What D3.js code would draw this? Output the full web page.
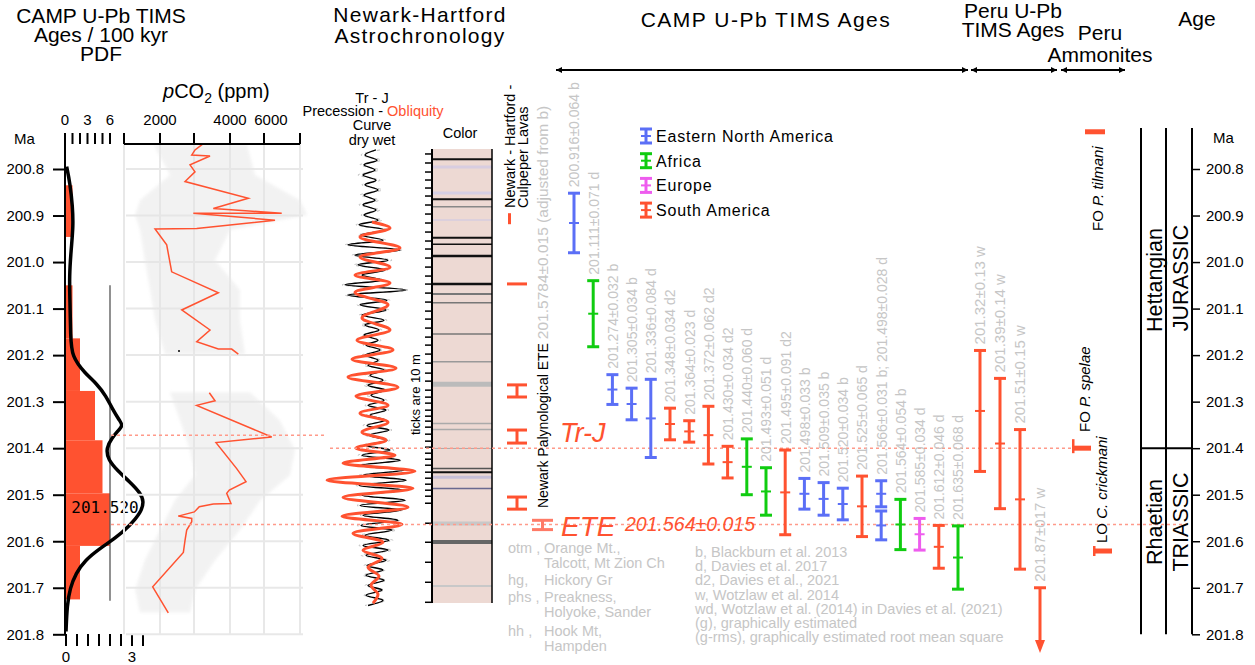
<!DOCTYPE html>
<html><head><meta charset="utf-8">
<script src="https://cdn.jsdelivr.net/npm/d3@7"></script>
<style>body{margin:0;background:#fff}svg text{font-family:"Liberation Sans",Arial,Helvetica,sans-serif}</style>
</head><body><svg id="c" width="1255" height="665"></svg>
<script>
// ---------- data ----------
const ageTicks = [200.8,200.9,201.0,201.1,201.2,201.3,201.4,201.5,201.6,201.7,201.8];

// U-Pb age histogram (counts per bin) and density curve
const pdfBinEdges = [200.835,200.946,201.05,201.164,201.277,201.383,201.497,201.61,201.725];
const pdfCounts   = [1,0,1,2,4,5,6,2];
const densityAges = [200.795,200.83,200.881,200.924,200.974,201.032,201.082,201.16,201.203,201.239,201.262,201.288,201.314,201.342,201.351,201.363,201.378,201.4,201.425,201.449,201.473,201.495,201.514,201.538,201.566,201.594,201.615,201.641,201.669,201.701,201.738,201.794];
const densityVals = [0.03,0.18,0.3,0.33,0.23,0.15,0.18,0.21,0.26,0.86,1.41,1.82,2.09,2.45,2.59,2.36,2.09,1.82,1.91,2.36,2.91,3.36,3.55,3.41,2.91,2.23,1.55,0.86,0.45,0.18,0.05,0];
const pdfMeanLine = {value:2, from:201.05, to:201.728};
const pdfPeakLabel = "201.520";

// pCO2 record (two segments) and its uncertainty envelope
const pco2AgesA = [200.746,200.759,200.77,200.772,200.791,200.806,200.827,200.863,200.885,200.895,200.895,200.91,200.928,200.929,200.963,201.021,201.066,201.103,201.146,201.171,201.187,201.187,201.198];
const pco2ValsA = [3061,2828,2738,3281,2692,2828,2562,4794,3390,6675,2782,6246,2876,1904,2137,2245,3563,2480,3281,2876,3563,4067,4343];
const pco2AgesB = [201.281,201.298,201.308,201.376,201.388,201.444,201.472,201.49,201.497,201.519,201.52,201.526,201.537,201.546,201.551,201.558,201.576,201.598,201.624,201.698,201.754];
const pco2ValsB = [3259,3449,2876,6045,3482,4274,4688,3972,3871,4039,3390,2951,2809,2396,2738,2738,2605,2562,2520,1860,2171];
const pco2Stray = [201.191,2414];
const envAgesA = [200.748,200.813,200.867,200.899,200.931,200.996,201.06,201.125,201.198];
const envLoA   = [1879,2208,1641,1562,1641,1720,1812,1904,2101];
const envHiA   = [4740,5124,8000,8600,4000,3449,4416,4416,4640];
const envAgesB = [201.28,201.34,201.404,201.458,201.512,201.576,201.641,201.705,201.753];
const envLoB   = [2208,2438,2692,2828,2320,2000,1720,1562,1641];
const envHiB   = [4876,6540,7614,7246,5400,4416,3449,2828,2692];
const pco2GridVals = [1400,2000,2800,4000,5600,8000];
const pco2LabelVals = [2000,4000,6000];

// Astrochronology: precession (black), its dashed companion (gray) and obliquity (red) extremes; dry < 0 < wet
const precAges = [200.759,200.770,200.781,200.791,200.802,200.813,200.824,200.834,200.845,200.856,200.867,200.877,200.888,200.899,200.910,200.920,200.931,200.942,200.953,200.963,200.974,200.985,200.996,201.006,201.017,201.028,201.039,201.049,201.060,201.071,201.082,201.092,201.103,201.114,201.125,201.135,201.146,201.157,201.168,201.178,201.189,201.200,201.211,201.222,201.232,201.243,201.254,201.265,201.275,201.286,201.297,201.308,201.318,201.329,201.340,201.351,201.361,201.372,201.383,201.394,201.404,201.415,201.426,201.437,201.447,201.458,201.469,201.480,201.490,201.501,201.512,201.523,201.533,201.544,201.555,201.566,201.576,201.587,201.598,201.609,201.619,201.630,201.641,201.652,201.662,201.673,201.684,201.695,201.705,201.716,201.727,201.738];
const precVals = [6,-5,7,-6,5,-7,6,-5,8,-6,5,-7,6,-6,8,-11,15,-9,13,-22,30,-15,18,-12,15,-8,12,-25,36,-22,17,-10,16,-8,14,-5,9,-6,8,-4,10,-5,8,-2,14,0,13,-2,15,1,14,-2,16,0,15,-3,19,-1,17,-4,20,-8,30,-10,34,-7,36,-11,33,-8,35,-10,31,-7,28,-9,22,-5,19,-7,18,-4,16,-3,13,-4,14,-2,12,-4,13,-2];
const dashVals = [10,-9,11,-10,9,-12,10,-8,12,-10,9,-11,10,-9,12,-14,18,-12,16,-25,32,-18,22,-16,18,-12,15,-28,38,-25,20,-13,19,-11,17,-9,12,-8,11,-7,13,-8,11,-6,17,-5,16,-6,18,-4,17,-5,19,-4,18,-7,22,-5,20,-8,24,-12,32,-14,35,-11,37,-14,34,-12,36,-13,33,-10,30,-13,26,-10,23,-11,22,-9,20,-6,15,-7,16,-5,14,-6,15,-5];
const obliqAges = [200.914,200.927,200.946,200.970,200.989,201.011,201.028,201.045,201.065,201.092,201.120,201.146,201.168,201.189,201.209,201.228,201.247,201.269,201.288,201.3075,201.3247,201.3441,201.3656,201.3828,201.4,201.4151,201.4323,201.4495,201.4688,201.486,201.5054,201.5269,201.5462,201.5634,201.5828,201.6022,201.6194,201.6366,201.6559,201.6753,201.6946,201.714,201.7333];
const obliqVals = [2,20,-10,30,-10,20,-15,20,-15,18,-8,20,-13,23,-18,26,-22,28,-14,18,-10,18,-8,16,-14,25,-27,45,-43,43,-27,38,-28,32,-17,13,-7,12,-2,9,1,8,3];

// Color column stripes and 10 m ticks
const colorStripeAges = [200.7791,200.7957,200.8516,200.8652,200.8811,200.9097,200.9477,200.9619,200.9871,201.0473,201.0688,201.0875,201.1548,201.2144,201.2624,201.3469,201.3598,201.4006,201.4437,201.4516,201.4624,201.4867,201.5619,201.6015,201.6961];
const colorStripeTones = ["#111","#d8cde0","#d5cfe4","#111","#888","#dcd0dc","#111","#111","#111","#111","#777","#777","#777","#999","#bbb","#aaa","#aaa","#aaa","#555","#111","#c8c0d8","#6a6a90","#c8c8c8","#666","#c8c8c8"];
const colorStripeW = [2,3,3,2,1.5,2,2,1.5,2.5,2.5,2,1.5,1.5,1.5,5,1.5,1.5,1,1.5,2,3,1.5,4,4,2];
const colorTickAges = [200.7677,200.7871,200.8065,200.8237,200.8409,200.8581,200.8774,200.8968,200.9161,200.9355,200.9548,200.9720,200.9914,201.0108,201.0301,201.0473,201.0667,201.086,201.1054,201.1226,201.1419,201.1613,201.1785,201.1978,201.2172,201.2387,201.2559,201.2753,201.2903,201.3032,201.3183,201.3312,201.3419,201.3548,201.3699,201.3849,201.3978,201.4108,201.4237,201.4366,201.4516,201.4645,201.4774,201.4903,201.5032,201.5183,201.5613,201.6022,201.6452,201.6882,201.7312];

// CAMP U-Pb TIMS ages
const campLabels = ["200.916±0.064 b","201.111±0.071 d","201.274±0.032 b","201.305±0.034 b","201.336±0.084 d","201.348±0.034 d2","201.364±0.023 d","201.372±0.062 d2","201.430±0.034 d2","201.440±0.060 d","201.493±0.051 d","201.495±0.091 d2","201.498±0.033 b","201.509±0.035 b","201.520±0.034 b","201.525±0.065 d","201.566±0.031 b; 201.498±0.028 d","201.564±0.054 b","201.585±0.034 d","201.612±0.046 d","201.635±0.068 d"];
const campSlot   = [0,1,2,3,4,5,6,7,8,9,10,11,12,13,14,15,16,16,17,18,19,20];
const campAge    = [200.916,201.111,201.274,201.305,201.336,201.348,201.364,201.372,201.430,201.440,201.493,201.495,201.498,201.509,201.520,201.525,201.498,201.566,201.564,201.585,201.612,201.635];
const campErr    = [0.064,0.071,0.032,0.034,0.084,0.034,0.023,0.062,0.034,0.060,0.051,0.091,0.033,0.035,0.034,0.065,0.028,0.031,0.054,0.034,0.046,0.068];
const campRegion = ["ENA","AF","ENA","ENA","ENA","SA","SA","SA","SA","AF","AF","SA","ENA","ENA","ENA","SA","ENA","ENA","AF","EU","SA","AF"];
const regionNames = ["Eastern North America","Africa","Europe","South America"];
const regionKeys  = ["ENA","AF","EU","SA"];

// Peru U-Pb TIMS ages
const peruLabels = ["201.32±0.13 w","201.39±0.14 w","201.51±0.15 w","201.87±017 w"];
const peruAge = [201.32,201.39,201.51,201.87];
const peruErr = [0.13,0.14,0.15,0.17];

// Newark lava / palynology markers (centre age, half-range)
const lavaMarkAges = [201.277,201.375,201.518,201.565];
const lavaMarkHalf = [0.013,0.014,0.013,0.01];

// Notes
const noteAbbr = ["otm ,","","hg,","phs ,","","hh ,",""];
const noteUnits = ["Orange Mt.,","Talcott, Mt Zion Ch","Hickory Gr","Preakness,","Holyoke, Sander","Hook Mt,","Hampden"];
const refNotes = ["b, Blackburn et al. 2013","d, Davies et al. 2017","d2, Davies et al., 2021","w, Wotzlaw et al. 2014","wd, Wotzlaw et al. (2014) in Davies et al. (2021)","(g), graphically estimated","(g-rms), graphically estimated root mean square"];

// ---------- drawing ----------
const svg = d3.select("#c");
const RED="#ff5230", BLUE="#5b6ff6", GREEN="#10cc10", MAG="#ee5cee", LT="#c6c6c6";
const regionColor = d3.scaleOrdinal().domain(regionKeys).range([BLUE,GREEN,MAG,RED]);
const y = d3.scaleLinear().domain([200.8,201.8]).range([169,634.3]);

function txt(x,yy,s,o={}){
  const t=svg.append("text").attr("x",x).attr("y",yy).text(s)
    .attr("font-size",o.size||15).attr("fill",o.fill||"#000")
    .attr("text-anchor",o.anchor||"start");
  if(o.ls) t.attr("letter-spacing",o.ls);
  if(o.italic) t.attr("font-style","italic");
  if(o.rot) t.attr("transform",`rotate(-90,${x},${yy})`);
  return t;
}

// headers
[["CAMP U-Pb TIMS",23],["Ages / 100 kyr",42],["PDF",61]].forEach(d=>txt(101,d[1],d[0],{size:21,anchor:"middle"}));
txt(420,22,"Newark-Hartford",{size:21,anchor:"middle",ls:1.3});
txt(420,43,"Astrochronology",{size:21,anchor:"middle",ls:1.3});
txt(766,27,"CAMP U-Pb TIMS Ages",{size:21,anchor:"middle",ls:1.5});
txt(1013,18,"Peru U-Pb",{size:21,anchor:"middle"});
txt(1013,37,"TIMS Ages",{size:21,anchor:"middle"});
txt(1100,40,"Peru",{size:21,anchor:"middle"});
txt(1100,62,"Ammonites",{size:21,anchor:"middle"});
txt(1197,26,"Age",{size:21,anchor:"middle"});

// header arrows
const defs=svg.append("defs");
["s","e"].forEach(k=>{
  defs.append("marker").attr("id","ar"+k).attr("viewBox","0 0 10 10").attr("refX",k==="e"?10:0).attr("refY",5)
   .attr("markerWidth",9).attr("markerHeight",6).attr("markerUnits","userSpaceOnUse").attr("orient","auto")
   .append("path").attr("d",k==="e"?"M0,0L10,5L0,10z":"M10,0L0,5L10,10z");
});
[[556,968],[971,1057],[1061,1125]].forEach(a=>{
  svg.append("line").attr("x1",a[0]).attr("x2",a[1]).attr("y1",70).attr("y2",70)
   .attr("stroke","#000").attr("stroke-width",2).attr("marker-start","url(#ars)").attr("marker-end","url(#are)");
});

// ---- PDF panel ----
const xCount = d3.scaleLinear().domain([0,6]).range([65,110]);
const xDens  = d3.scaleLinear().domain([0,3]).range([66,132]);
pdfCounts.forEach((c,i)=>{
  if(!c) return;
  svg.append("rect").attr("x",xCount(0)).attr("y",y(pdfBinEdges[i]))
   .attr("width",xCount(c)-xCount(0)).attr("height",y(pdfBinEdges[i+1])-y(pdfBinEdges[i])).attr("fill",RED);
});
svg.append("line").attr("x1",xDens(pdfMeanLine.value)).attr("x2",xDens(pdfMeanLine.value))
  .attr("y1",y(pdfMeanLine.from)).attr("y2",y(pdfMeanLine.to)).attr("stroke","#555").attr("stroke-width",1.3);
svg.append("path").datum(densityAges.map((a,i)=>[xDens(densityVals[i]),y(a)]))
  .attr("d",d3.line().curve(d3.curveBasis)).attr("fill","none").attr("stroke","#000").attr("stroke-width",3.5);
svg.append("text").attr("x",105).attr("y",513).attr("text-anchor","middle").attr("font-size",16)
  .style("font-family","'DejaVu Sans Mono',monospace").text(pdfPeakLabel);

// left age axis
const gL=svg.append("g").attr("transform","translate(65,0)")
  .call(d3.axisLeft(y).tickValues(ageTicks).tickSize(12).tickPadding(9).tickFormat(d3.format(".1f")));
gL.select(".domain").remove();
gL.selectAll("text").attr("font-size",15).attr("font-family",null);
gL.selectAll("line").attr("stroke-width",2);
svg.append("line").attr("x1",65).attr("x2",65).attr("y1",133).attr("y2",y(201.8)).attr("stroke","#000").attr("stroke-width",2);
txt(14,144,"Ma",{size:15});
d3.range(0,7).forEach(v=>svg.append("line").attr("x1",xCount(v)).attr("x2",xCount(v)).attr("y1",133).attr("y2",144).attr("stroke","#000").attr("stroke-width",2));
[0,3,6].forEach(v=>txt(xCount(v),125,v,{size:15,anchor:"middle"}));
d3.range(0,3.51,0.5).forEach(v=>svg.append("line").attr("x1",xDens(v)).attr("x2",xDens(v)).attr("y1",634).attr("y2",646).attr("stroke","#000").attr("stroke-width",2));
[0,3].forEach(v=>txt(xDens(v),662,v,{size:15,anchor:"middle"}));

// ---- pCO2 panel ----
const xC = d3.scaleLog().domain([1400,8000]).range([124,300]);
const gP=svg.append("g");
pco2GridVals.forEach(v=>gP.append("line").attr("x1",xC(v)).attr("x2",xC(v)).attr("y1",144).attr("y2",y(201.8)).attr("stroke","#e8e8e8").attr("stroke-width",2));
ageTicks.forEach(a=>gP.append("line").attr("x1",126).attr("x2",303).attr("y1",y(a)).attr("y2",y(a)).attr("stroke","#e8e8e8").attr("stroke-width",2));
const envArea=d3.area().x0(d=>xC(d[1])).x1(d=>xC(d[2])).y(d=>y(d[0]));
[[envAgesA,envLoA,envHiA],[envAgesB,envLoB,envHiB]].forEach(e=>
  gP.append("path").datum(e[0].map((a,i)=>[a,e[1][i],e[2][i]])).attr("d",envArea).attr("fill","#e6e6e6").attr("opacity",0.5).style("filter","blur(1.5px)"));
const pLine=d3.line().x(d=>xC(d[1])).y(d=>y(d[0]));
gP.append("path").datum(pco2AgesA.map((a,i)=>[a,pco2ValsA[i]])).attr("d",pLine).attr("fill","none").attr("stroke",RED).attr("stroke-width",1.5);
gP.append("path").datum(pco2AgesB.map((a,i)=>[a,pco2ValsB[i]])).attr("d",pLine).attr("fill","none").attr("stroke",RED).attr("stroke-width",1.5);
gP.append("circle").attr("cx",xC(pco2Stray[1])).attr("cy",y(pco2Stray[0])).attr("r",1).attr("fill","#000");
gP.append("line").attr("x1",124).attr("x2",300).attr("y1",144).attr("y2",144).attr("stroke","#000").attr("stroke-width",2);
pco2GridVals.forEach(v=>gP.append("line").attr("x1",xC(v)).attr("x2",xC(v)).attr("y1",133).attr("y2",144).attr("stroke","#000").attr("stroke-width",2));
pco2LabelVals.forEach(v=>txt(xC(v),125,v,{size:15,anchor:"middle"}));
const pl=svg.append("text").attr("x",163).attr("y",98).attr("font-size",20);
pl.append("tspan").attr("font-style","italic").text("p");
pl.append("tspan").text("CO");
pl.append("tspan").attr("font-size",14).attr("dy",5).text("2");
pl.append("tspan").attr("dy",-5).text(" (ppm)");

// ---- Astrochronology ----
const xA = d3.scaleLinear().domain([-50,50]).range([320,420]);
const astroLine=d3.line().x(d=>xA(d[1])).y(d=>y(d[0])).curve(d3.curveMonotoneY);
svg.append("path").datum(precAges.map((a,i)=>[a,dashVals[i]])).attr("d",astroLine).attr("fill","none").attr("stroke","#bdbdbd").attr("stroke-width",1).attr("stroke-dasharray","3,3");
svg.append("path").datum(precAges.map((a,i)=>[a,precVals[i]])).attr("d",astroLine).attr("fill","none").attr("stroke","#000").attr("stroke-width",1.4);
svg.append("path").datum(obliqAges.map((a,i)=>[a,obliqVals[i]])).attr("d",astroLine).attr("fill","none").attr("stroke",RED).attr("stroke-width",3);
txt(372,103,"Tr - J",{size:14.5,anchor:"middle"});
const pt=svg.append("text").attr("x",373).attr("y",116).attr("text-anchor","middle").attr("font-size",14.5);
pt.append("tspan").text("Precession - ");
pt.append("tspan").attr("fill",RED).text("Obliquity");
txt(372,130,"Curve",{size:14.5,anchor:"middle"});
txt(372,145,"dry wet",{size:14.5,anchor:"middle"});
txt(460,138,"Color",{size:14.5,anchor:"middle"});

// color column
svg.append("rect").attr("x",432).attr("y",149).attr("width",60).attr("height",454).attr("fill","#edd9d3");
colorStripeAges.forEach((a,i)=>svg.append("line").attr("x1",432).attr("x2",492).attr("y1",y(a)).attr("y2",y(a))
  .attr("stroke",colorStripeTones[i]).attr("stroke-width",colorStripeW[i]));
svg.append("line").attr("x1",432).attr("x2",432).attr("y1",149).attr("y2",603).attr("stroke","#000").attr("stroke-width",2);
svg.append("line").attr("x1",492).attr("x2",492).attr("y1",149).attr("y2",603).attr("stroke","#000").attr("stroke-width",1.5);
colorTickAges.forEach(a=>svg.append("line").attr("x1",425).attr("x2",432).attr("y1",y(a)).attr("y2",y(a)).attr("stroke","#000").attr("stroke-width",1.5));
txt(420,435,"ticks are 10 m",{size:13,rot:true});

// dashed event lines
function dline(x1,x2,a){svg.append("line").attr("x1",x1).attr("x2",x2).attr("y1",y(a)).attr("y2",y(a))
  .attr("stroke","#ff9a8a").attr("stroke-width",1.5).attr("stroke-dasharray","3,3");}
dline(111,327,201.372);
dline(330,1075,201.4);
dline(111,1190,201.564);

// Newark lava markers and labels
lavaMarkAges.forEach((a,i)=>{
  const g=svg.append("g").attr("stroke",i===3?"#ff7a66":RED).attr("stroke-width",3);
  const x0=i===3?532:507, w=i===3?21:20, t=y(a-lavaMarkHalf[i]), b=y(a+lavaMarkHalf[i]);
  g.append("line").attr("x1",x0).attr("x2",x0+w).attr("y1",t).attr("y2",t);
  g.append("line").attr("x1",x0).attr("x2",x0+w).attr("y1",b).attr("y2",b);
  g.append("line").attr("x1",x0+w/2).attr("x2",x0+w/2).attr("y1",t).attr("y2",b);
});
svg.append("rect").attr("x",508).attr("y",y(200.895)).attr("width",3).attr("height",11).attr("fill",RED);
svg.append("rect").attr("x",507).attr("y",y(201.047)-1.5).attr("width",20).attr("height",3).attr("fill",RED);
txt(515,208,"Newark - Hartford -",{size:14.5,rot:true});
txt(528,208,"Culpeper Lavas",{size:14.5,rot:true});
const pal=svg.append("text").attr("x",548).attr("y",508).attr("transform","rotate(-90,548,508)");
pal.append("tspan").attr("font-size",14).text("Newark Palynological ETE ");
pal.append("tspan").attr("font-size",15.5).attr("fill",LT).text("201.5784±0.015 (adjusted from b)");
txt(560,442,"Tr-J",{size:27,fill:RED,italic:true});
txt(561,536,"ETE",{size:28,fill:RED,italic:true});
txt(625,531,"201.564±0.015",{size:19.5,fill:RED,italic:true});

// CAMP error bars
const xCamp = d3.scalePoint().domain(d3.range(21)).range([574,958]);
function errBar(x,age,err,col){
  const g=svg.append("g").attr("stroke",col);
  g.append("line").attr("x1",x).attr("x2",x).attr("y1",y(age-err)).attr("y2",y(age+err)).attr("stroke-width",3);
  [age-err,age+err].forEach(a=>g.append("line").attr("x1",x-6).attr("x2",x+6).attr("y1",y(a)).attr("y2",y(a)).attr("stroke-width",3));
  g.append("line").attr("x1",x-5).attr("x2",x+5).attr("y1",y(age)).attr("y2",y(age)).attr("stroke-width",2);
}
campAge.forEach((a,i)=>errBar(xCamp(campSlot[i]),a,campErr[i],regionColor(campRegion[i])));
campLabels.forEach((s,k)=>{
  const top=d3.min(campSlot.map((sl,i)=>sl===k?campAge[i]-campErr[i]:Infinity));
  txt(xCamp(k)+5.5,y(top)-6,s,{size:14,fill:LT,rot:true});
});
// legend
regionKeys.forEach((k,i)=>{
  const yy=136+i*24.7, x=646;
  const g=svg.append("g").attr("stroke",regionColor(k));
  g.append("line").attr("x1",x).attr("x2",x).attr("y1",yy-7).attr("y2",yy+7).attr("stroke-width",3);
  [yy-7,yy+7].forEach(v=>g.append("line").attr("x1",x-6).attr("x2",x+6).attr("y1",v).attr("y2",v).attr("stroke-width",3));
  g.append("line").attr("x1",x-5).attr("x2",x+5).attr("y1",yy).attr("y2",yy).attr("stroke-width",2);
  txt(656,yy+6,regionNames[i],{size:16,ls:0.8});
});

// Peru error bars
const xPeru = d3.scalePoint().domain(d3.range(4)).range([980,1040]);
peruAge.forEach((a,i)=>{
  const x=xPeru(i);
  if(a<201.8){ errBar(x,a,peruErr[i],RED); }
  else{
    const g=svg.append("g").attr("stroke",RED).attr("fill",RED);
    g.append("line").attr("x1",x).attr("x2",x).attr("y1",y(a-peruErr[i])).attr("y2",645).attr("stroke-width",3);
    g.append("line").attr("x1",x-6).attr("x2",x+6).attr("y1",y(a-peruErr[i])).attr("y2",y(a-peruErr[i])).attr("stroke-width",3);
    g.append("path").attr("d",`M${x-5},640L${x+5},640L${x},653z`).attr("stroke","none");
  }
  txt(x+5.5,y(a-peruErr[i])-6,peruLabels[i],{size:15,fill:LT,rot:true});
});

// ammonites
function ammo(x,a,w){svg.append("rect").attr("x",x).attr("y",y(a)-2.5).attr("width",w).attr("height",5).attr("fill",RED);}
ammo(1085,200.72,20);
ammo(1072,201.4,19); svg.append("rect").attr("x",1072).attr("y",y(201.4)-9).attr("width",2.5).attr("height",14).attr("fill",RED);
ammo(1093,201.621,19); svg.append("rect").attr("x",1093).attr("y",y(201.621)-5).attr("width",2.5).attr("height",10).attr("fill",RED);
function rlab(x,yy,parts){const t=svg.append("text").attr("x",x).attr("y",yy).attr("font-size",15).attr("transform",`rotate(-90,${x},${yy})`);
  parts.forEach(p=>{const s=t.append("tspan").text(p[0]); if(p[1]) s.attr("font-style","italic");});}
rlab(1103,231,[["FO "],["P. tilmani",1]]);
rlab(1090,432,[["FO "],["P. spelae",1]]);
rlab(1107,543,[["LO "],["C. crickmani",1]]);

// Age column
[1141,1166].forEach(x=>svg.append("line").attr("x1",x).attr("x2",x).attr("y1",128).attr("y2",y(201.8)).attr("stroke","#000").attr("stroke-width",2));
svg.append("line").attr("x1",1141).attr("x2",1192).attr("y1",y(201.4)).attr("y2",y(201.4)).attr("stroke","#000").attr("stroke-width",2);
const gR=svg.append("g").attr("transform","translate(1192,0)")
  .call(d3.axisRight(y).tickValues(ageTicks).tickSize(8).tickPadding(6).tickFormat(d3.format(".1f")));
gR.select(".domain").remove();
gR.selectAll("text").attr("font-size",15).attr("font-family",null);
gR.selectAll("line").attr("stroke-width",1.5);
svg.append("line").attr("x1",1192).attr("x2",1192).attr("y1",128).attr("y2",y(201.8)).attr("stroke","#000").attr("stroke-width",2);
txt(1213,143,"Ma",{size:15});
txt(1162,280,"Hettangian",{size:21.5,anchor:"middle",rot:true});
txt(1188,278,"JURASSIC",{size:21.5,anchor:"middle",rot:true});
txt(1162,522,"Rhaetian",{size:21.5,anchor:"middle",rot:true});
txt(1188,522,"TRIASSIC",{size:21.5,anchor:"middle",rot:true});

// notes
const noteY=[553,568,585,602,617,636,651];
noteUnits.forEach((s,i)=>{ if(noteAbbr[i]) txt(508,noteY[i],noteAbbr[i],{size:14.5,fill:LT}); txt(544,noteY[i],s,{size:14.5,fill:LT}); });
refNotes.forEach((s,i)=>txt(695,557+i*14.2,s,{size:14.5,fill:LT}));
</script></body></html>
